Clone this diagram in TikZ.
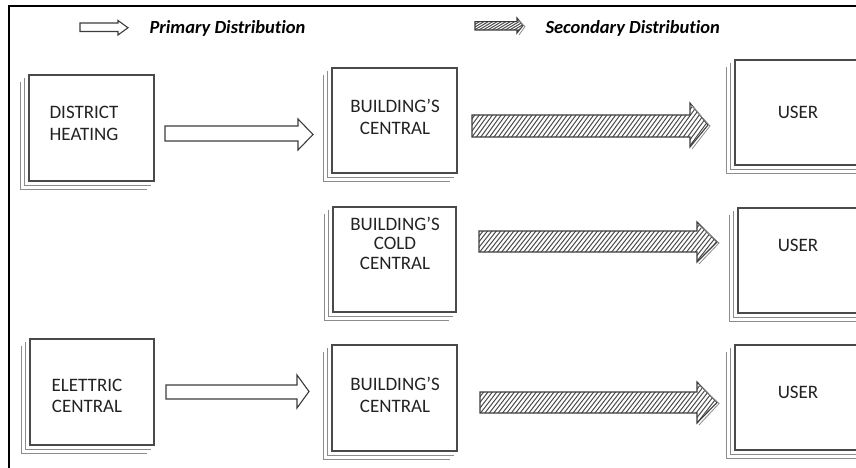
\documentclass[tikz,border=0pt]{standalone}
\usepackage{fontspec}
\setmainfont{Carlito}[Ligatures={NoCommon,NoRequired,NoContextual}]

% block arrow outline: x0, head base x, tip x, shaft top, shaft bottom, head top, head bottom
\newcommand{\arrowpath}[7]{(#1,#4) -- (#2,#4) -- (#2,#6) -- (#3,{(#6+#7)/2}) -- (#2,#7) -- (#2,#5) -- (#1,#5) -- cycle}

\newcommand{\plainarrow}[7]{%
  \draw[blockline, fill=white] \arrowpath{#1}{#2}{#3}{#4}{#5}{#6}{#7};}

\newcommand{\hatcharrow}[7]{%
  \begin{scope}
    \clip \arrowpath{#1}{#2}{#3}{#4}{#5}{#6}{#7};
    \foreach \k in {-20,...,70}
      \draw[hatch] ({#1+\k*4.4},{#7+2}) -- ++(38,{-(#7-#6)-8});
  \end{scope}
  \draw[blockline] \arrowpath{#1}{#2}{#3}{#4}{#5}{#6}{#7};
  \draw[headecho] ({#2+2},{#6+3}) -- ({#3+2},{(#6+#7)/2+1}) -- ({#2+2},{#7+2});}

\tikzset{
  box/.style={draw=boxgray, line width=1.3pt, rectangle, inner sep=0pt},
  sheet/.style={draw=sheetgray, line width=0.9pt},
  blockline/.style={draw=arrowgray, line width=1.1pt, line join=miter},
  hatch/.style={draw=hatchgray, line width=1pt},
  headecho/.style={draw=sheetgray, line width=0.8pt},
  label/.style={text=inkgray, align=center, font=\fontsize{19}{21.5}\selectfont},
  legend/.style={text=black, anchor=base west, font=\fontsize{18.5}{20}\selectfont\bfseries\itshape},
}
\definecolor{boxgray}{HTML}{4A4A4A}
\definecolor{sheetgray}{HTML}{8C8C8C}
\definecolor{arrowgray}{HTML}{3C3C3C}
\definecolor{hatchgray}{HTML}{4A4A4A}
\definecolor{inkgray}{HTML}{222222}

% a box stacked on two sheets peeking out left and below
\newcommand{\stackbox}[5]{% name, left, top, right, bottom
  \node[box, minimum width={(#4-#2)*1pt}, minimum height={(#5-#3)*1pt}] (#1) at ({(#2+#4)/2},{(#3+#5)/2}) {};
  \draw[sheet] ([shift={(-4,4)}]#1.north west) |- ([shift={(-4,4)}]#1.south east);
  \draw[sheet] ([shift={(-8,8)}]#1.north west) |- ([shift={(-8,8)}]#1.south east);}

\begin{document}
\begin{tikzpicture}[x=1pt, y=-1pt]
\useasboundingbox (0,0) rectangle (856,468);
\clip (0,0) rectangle (856,468);

% frame
\draw[line width=2.2pt] (9,470) -- (9,6) -- (860,6);

% legend
\plainarrow{80}{118}{128}{23}{31.5}{20.5}{35}
\node[legend] (leg1) at (146,33.3) {Primary Distribution};
\hatcharrow{475}{517}{523}{21.7}{30}{18}{33}
\node[legend] (leg2) at (542,33.3) {Secondary Distribution};

% boxes
\stackbox{dh}{29}{75}{154}{181}
\stackbox{bca}{332}{68}{457}{173}
\stackbox{usa}{735}{60}{880}{165}
\stackbox{bcc}{333}{207}{456}{312}
\stackbox{usb}{738}{208}{880}{313}
\stackbox{ec}{30}{339}{154}{445}
\stackbox{bcb}{332}{345}{457}{451}
\stackbox{usc}{735}{345}{880}{450}

% box texts
\node[label] (tdh) at (84,123.5) {DISTRICT\\HEATING};
\node[label] (tbca) at (395,117) {BUILDING’S\\CENTRAL};
\node[label, font=\fontsize{19}{19.5}\selectfont] (tbcc) at (395,243) {BUILDING’S\\COLD\\CENTRAL};
\node[label] (tec) at (87,396) {ELETTRIC\\CENTRAL};
\node[label] (tbcb) at (395,395) {BUILDING’S\\CENTRAL};
\node[label] (tusa) at (798,112.5) {USER};
\node[label] (tusb) at (798,245.5) {USER};
\node[label] (tusc) at (798,392.5) {USER};

% primary distribution
\plainarrow{165}{298}{313}{126}{141}{119}{150}
\plainarrow{166}{297}{309}{385}{399}{375}{408}

% secondary distribution
\hatcharrow{472}{690}{708}{115}{137}{103}{147}
\hatcharrow{479}{697}{717}{231}{252}{222}{262}
\hatcharrow{480}{697}{717}{392}{413}{382}{423}
\end{tikzpicture}
\end{document}
